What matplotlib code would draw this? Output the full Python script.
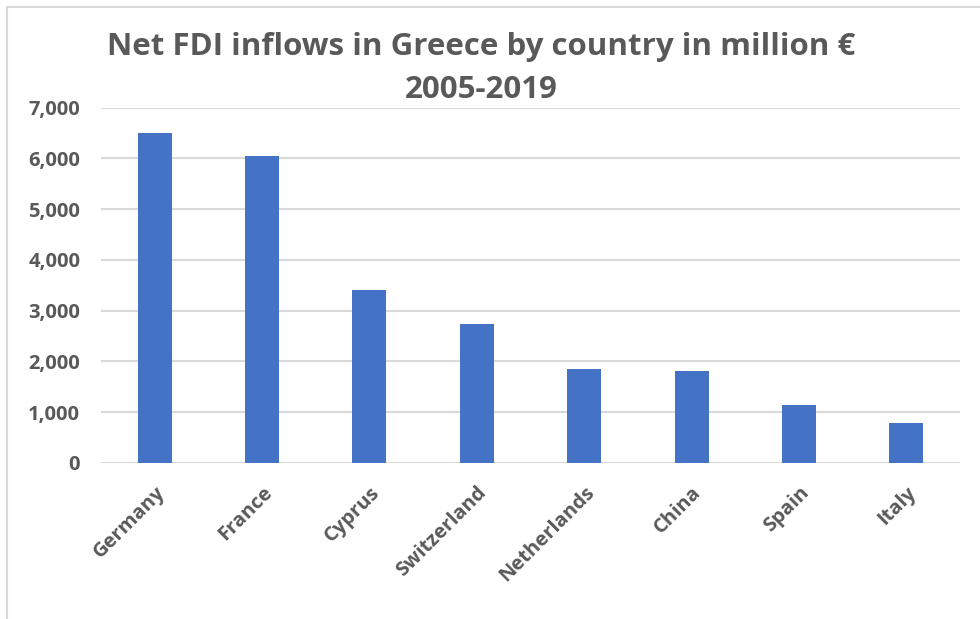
import matplotlib.pyplot as plt
from matplotlib.lines import Line2D
from matplotlib.ticker import FuncFormatter

countries = ['Germany', 'France', 'Cyprus', 'Switzerland', 'Netherlands', 'China', 'Spain', 'Italy']
fdi = [6490, 6045, 3415, 2745, 1860, 1805, 1145, 790]

gray = '#595959'
plt.rcParams['font.family'] = ['Open Sans', 'DejaVu Sans']

fig = plt.figure(figsize=(9.8, 6.19), dpi=100)
ax = fig.add_axes([101 / 980, 1 - 463 / 619, 859 / 980, 355.5 / 619])

ax.bar(range(len(countries)), fdi, width=0.317, color='#4472c4', zorder=3)
ax.set_xlim(-0.5, len(countries) - 0.5)
ax.set_ylim(0, 7000)
ax.set_yticks(range(0, 7001, 1000))
ax.yaxis.set_major_formatter(FuncFormatter(lambda v, p: f'{int(v):,}'))
ax.grid(axis='y', color='#d9d9d9', linewidth=1.5, zorder=0)
for s in ax.spines.values():
    s.set_visible(False)
ax.tick_params(length=0, colors=gray)
ax.tick_params(axis='y', pad=15)
ax.tick_params(axis='x', pad=14)
ax.set_xticks(range(len(countries)))
ax.set_xticklabels(countries, rotation=45, ha='right', rotation_mode='anchor')
for lab in ax.get_yticklabels() + ax.get_xticklabels():
    lab.set_fontsize(14.5)
    lab.set_fontweight('bold')
    lab.set_color(gray)

fig.text(481 / 980, 1 - 47 / 619, 'Net FDI inflows in Greece by country in million €',
         ha='center', va='center', fontsize=22.5, fontweight='bold', color=gray)
fig.text(481 / 980, 1 - 90 / 619, '2005-2019',
         ha='center', va='center', fontsize=22.5, fontweight='bold', color=gray)

# chart border (left and top edges visible)
fig.add_artist(Line2D([7 / 980, 7 / 980], [0, 1 - 7 / 619], color='#d9d9d9', linewidth=1.5))
fig.add_artist(Line2D([7 / 980, 1], [1 - 7 / 619, 1 - 7 / 619], color='#d9d9d9', linewidth=1.5))

fig.savefig('out.png', dpi=100)
